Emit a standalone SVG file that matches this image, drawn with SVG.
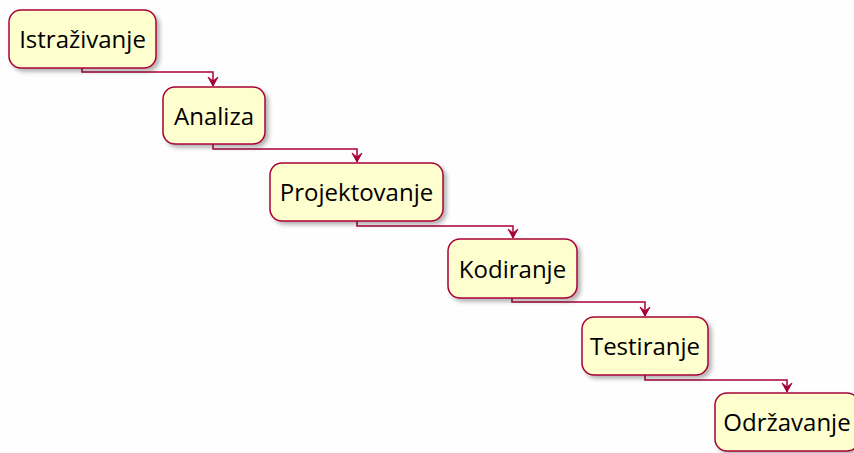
<svg xmlns="http://www.w3.org/2000/svg" width="854" height="453" viewBox="0 0 854 453">
<defs>
<filter id="sh" x="-10%" y="-10%" width="130%" height="140%">
<feDropShadow dx="3" dy="3" stdDeviation="2" flood-color="#000" flood-opacity="0.3"/>
</filter>
<marker id="ah" markerWidth="12" markerHeight="12" refX="10" refY="6" orient="auto" markerUnits="userSpaceOnUse" viewBox="0 0 12 12">
<path d="M1,1 L10,6 L1,11 L5,6 Z" fill="#A80036" stroke="#A80036" stroke-width="1"/>
</marker>
</defs>
<style>
.box{fill:#FEFECE;stroke:#A80036;stroke-width:1.5;filter:url(#sh)}
.lbl{font-family:"Open Sans","DejaVu Sans",sans-serif;font-size:24px;fill:#000;text-anchor:middle}
.con{fill:none;stroke:#A80036;stroke-width:1.5}
</style>
<rect width="854" height="453" fill="#FEFEFE"/>
<g id="connectors">
<path class="con" d="M82,68 L82,72 L213,72 L213,86" marker-end="url(#ah)"/>
<path class="con" d="M213,144 L213,149 L357,149 L357,162" marker-end="url(#ah)"/>
<path class="con" d="M357,221 L357,226 L513,226 L513,238" marker-end="url(#ah)"/>
<path class="con" d="M512,298 L512,302 L645,302 L645,316" marker-end="url(#ah)"/>
<path class="con" d="M645,375 L645,380 L787,380 L787,392" marker-end="url(#ah)"/>
</g>
<g id="istrazivanje">
<rect class="box" x="9" y="10" width="147" height="58" rx="12"/>
<text class="lbl" x="82.5" y="48">Istraživanje</text>
</g>
<g id="analiza">
<rect class="box" x="163" y="87" width="102" height="57" rx="12"/>
<text class="lbl" x="214" y="125">Analiza</text>
</g>
<g id="projektovanje">
<rect class="box" x="270" y="163" width="173" height="58" rx="12"/>
<text class="lbl" x="356.5" y="201">Projektovanje</text>
</g>
<g id="kodiranje">
<rect class="box" x="448" y="239" width="129" height="59" rx="12"/>
<text class="lbl" x="512.5" y="278">Kodiranje</text>
</g>
<g id="testiranje">
<rect class="box" x="582" y="317" width="126" height="58" rx="12"/>
<text class="lbl" x="645" y="355">Testiranje</text>
</g>
<g id="odrzavanje">
<rect class="box" x="715" y="393" width="144" height="58" rx="12"/>
<text class="lbl" x="787" y="431">Održavanje</text>
</g>
</svg>
